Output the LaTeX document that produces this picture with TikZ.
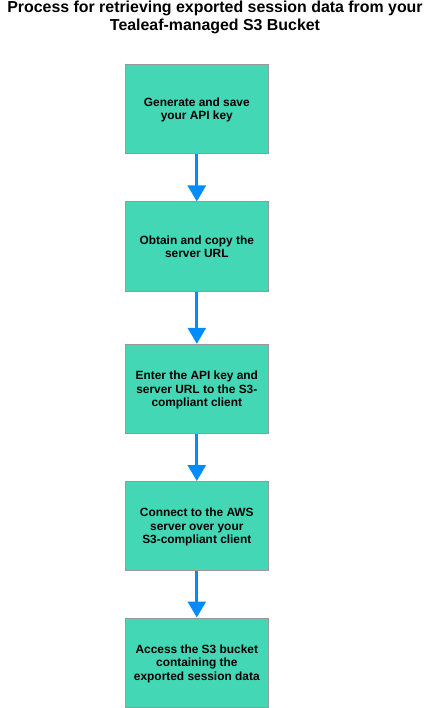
\documentclass[tikz,border=0pt]{standalone}
\usepackage{fontspec}
\setmainfont{Liberation Sans}
\usetikzlibrary{arrows.meta}
\definecolor{boxfill}{HTML}{44D7B6}
\definecolor{boxline}{HTML}{999999}
\definecolor{arrowblue}{HTML}{008CFF}
\begin{document}
\begin{tikzpicture}[x=1pt, y=-1pt,
    stepbox/.style={draw=boxline, fill=boxfill, line width=1pt, minimum width=143pt, minimum height=89pt,
        align=center, font=\fontsize{11.9}{13.6}\selectfont\bfseries, inner sep=0pt, text depth=-8pt},
    flow/.style={draw=arrowblue, line width=2.7pt, -{Triangle[width=18pt,length=16pt]}}]
\useasboundingbox (0,0) rectangle (430,708);
\node (title) at (215,17.5)[align=center, font=\fontsize{15.9}{18}\selectfont\bfseries]
    {Process for retrieving exported session data from your\\Tealeaf-managed S3 Bucket};
\node[stepbox] (s1) at (196.8,108.8){Generate and save\\your API key};
\node[stepbox] (s2) at (196.8,246.5){Obtain and copy the\\server URL};
\node[stepbox] (s3) at (196.8,388.8){Enter the API key and\\server URL to the S3-\\compliant client};
\node[stepbox] (s4) at (196.8,526){Connect to the AWS\\server over your\\S3-compliant client};
\node[stepbox] (s5) at (196.8,662.5){Access the S3 bucket\\containing the\\exported session data};
\foreach \a/\b in {s1/s2,s2/s3,s3/s4,s4/s5}
{
    \draw[flow] (\a.south)--(\b.north);
}
\end{tikzpicture}
\end{document}
